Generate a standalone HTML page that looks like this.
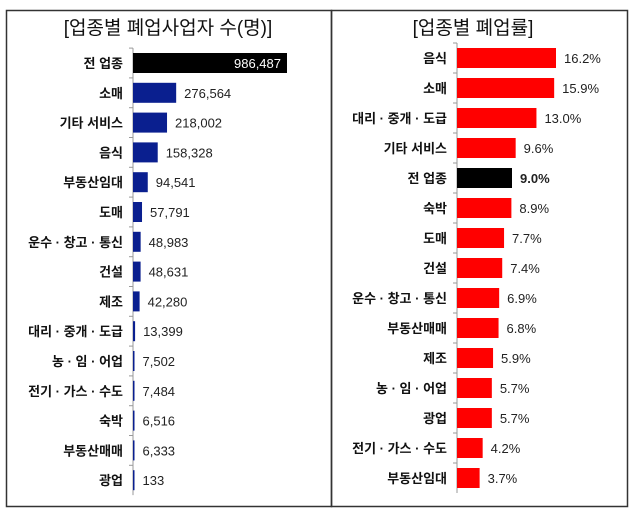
<!DOCTYPE html>
<html><head><meta charset="utf-8"><style>
body{margin:0;background:#fff;width:634px;height:515px;overflow:hidden;font-family:"Liberation Sans","Noto Sans CJK KR",sans-serif}
svg text{font-family:"Liberation Sans","Noto Sans CJK KR",sans-serif}
</style></head><body>
<svg width="634" height="515">
<rect x="6.5" y="10.5" width="325" height="496" fill="none" stroke="#333" stroke-width="1.5"/>
<rect x="331.5" y="10.5" width="296" height="496" fill="none" stroke="#333" stroke-width="1.5"/>
<text x="168" y="34" font-size="19" text-anchor="middle" fill="#111">[업종별 폐업사업자 수(명)]</text>
<text x="473" y="34" font-size="19" text-anchor="middle" fill="#111">[업종별 폐업률]</text>
<g id="left"></g><g id="right"></g>
</svg>
<script>
const leftCats=["전 업종","소매","기타 서비스","음식","부동산임대","도매","운수 · 창고 · 통신","건설","제조","대리 · 중개 · 도급","농 · 임 · 어업","전기 · 가스 · 수도","숙박","부동산매매","광업"];
const leftVals=[986487,276564,218002,158328,94541,57791,48983,48631,42280,13399,7502,7484,6516,6333,133];
const rightCats=["음식","소매","대리 · 중개 · 도급","기타 서비스","전 업종","숙박","도매","건설","운수 · 창고 · 통신","부동산매매","제조","농 · 임 · 어업","광업","전기 · 가스 · 수도","부동산임대"];
const rightVals=[16.2,15.9,13.0,9.6,9.0,8.9,7.7,7.4,6.9,6.8,5.9,5.7,5.7,4.2,3.7];
const NS="http://www.w3.org/2000/svg";
function mk(g,tag,a){const e=document.createElementNS(NS,tag);for(const k in a)e.setAttribute(k,a[k]);g.appendChild(e);return e;}
function draw(gid,cats,vals,x0,maxW,maxV,y0,step,color,fmt,side){
 const g=document.getElementById(gid);
 const xs=v=>x0+v/maxV*maxW;
 const yc=i=>y0+i*step;
 const ax=mk(g,'line',{x1:x0,x2:x0,y1:yc(0)-step/2,y2:yc(cats.length-1)+step/2,stroke:'#999'});
 
 
 cats.forEach((c,i)=>{
  const t=mk(g,'line',{x1:x0-4,x2:x0,y1:yc(i)-step/2,y2:yc(i)-step/2,stroke:'#999'});
  
  
  const isAll=c==="전 업종";
  const w=Math.max(xs(vals[i])-x0,1.5);
  const r=mk(g,'rect',{x:x0,y:yc(i)-10,width:w,height:20,fill:isAll?'#000':color});
  
  
  const l=mk(g,'text',{x:x0-10,y:yc(i)+5,'font-size':13,'font-weight':'bold','text-anchor':'end',fill:'#111'});
  l.textContent=c;
  
  
  let vt;
  if(isAll&&side==='left'){vt=mk(g,'text',{x:xs(vals[i])-6,y:yc(i)+5,'font-size':13,'text-anchor':'end',fill:'#fff'});}
  else vt=mk(g,'text',{x:x0+w+8,y:yc(i)+5,'font-size':13,fill:'#222','font-weight':isAll?'bold':'normal'});
  vt.textContent=fmt(vals[i]);
  
  
 });
}
draw('left',leftCats,leftVals,133,154,986487,63,29.8,'#0a1f8f',v=>v.toLocaleString('en-US'),'left');
draw('right',rightCats,rightVals,457,99,16.2,58,30,'#ff0000',v=>v.toFixed(1)+'%','right');
</script>
</body></html>
